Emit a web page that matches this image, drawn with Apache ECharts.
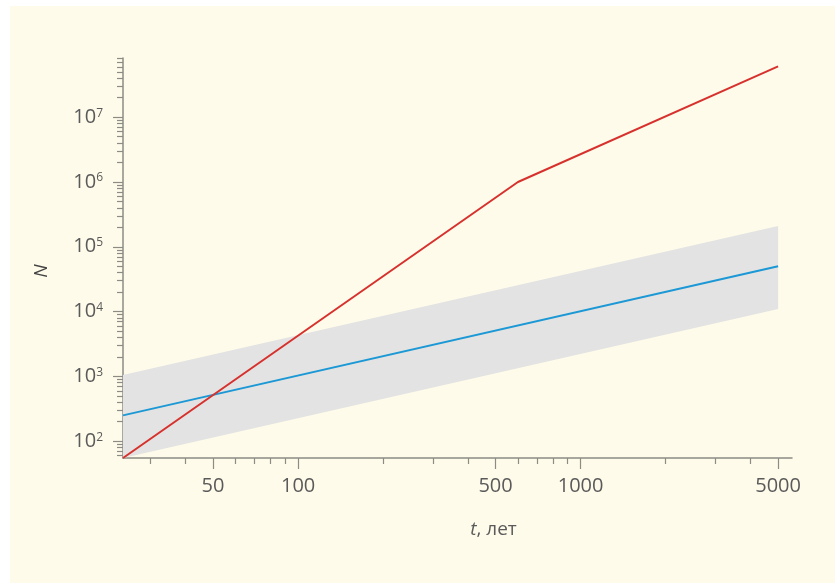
<!DOCTYPE html>
<html>
<head>
<meta charset="utf-8">
<script src="https://cdn.jsdelivr.net/npm/echarts@6/dist/echarts.min.js"></script>
<style>
  html, body { margin: 0; padding: 0; background: #ffffff; }
  #chart { position: absolute; left: 10px; top: 6px; width: 825px; height: 577px; background: #fefbea; }
</style>
</head>
<body>
<div id="chart"></div>
<script>
// ---- Data ----
const redT  = [24, 600, 5000];
const redN  = [55, 1.0e6, 6.1e7];
const blueT = [24, 5000];
const blueN = [250, 50000];
const bandT    = [24, 5000];
const bandLow  = [55, 11000];
const bandHigh = [1050, 210000];

// ---- Tick values ----
const xMajorTicks = [50, 100, 500, 1000, 5000];
const xMinorTicks = [30, 40, 60, 70, 80, 90, 200, 300, 400, 600, 700, 800, 900, 2000, 3000, 4000];
const yMajorTicks = [1e2, 1e3, 1e4, 1e5, 1e6, 1e7];
const yMinorTicks = [60, 70, 80, 90,
  200, 300, 400, 500, 600, 700, 800, 900,
  2000, 3000, 4000, 5000, 6000, 7000, 8000, 9000,
  20000, 30000, 40000, 50000, 60000, 70000, 80000, 90000,
  200000, 300000, 400000, 500000, 600000, 700000, 800000, 900000,
  2e6, 3e6, 4e6, 5e6, 6e6, 7e6, 8e6, 9e6,
  2e7, 3e7, 4e7, 5e7, 6e7, 7e7, 8e7];

const xMin = 24, xMax = 5600, yMin = 55, yMax = 8.2e7;

const FONT = '"Open Sans", "DejaVu Sans", sans-serif';
const AXIS_COLOR = '#8c8c84';
const LABEL_COLOR = '#5a5a5a';

const chart = echarts.init(document.getElementById('chart'), null, { renderer: 'canvas' });

function pairs(xs, ys) { return xs.map((x, i) => [x, ys[i]]); }

const option = {
  animation: false,
  backgroundColor: 'transparent',
  grid: { left: 113, top: 52, width: 669, height: 400, containLabel: false },
  xAxis: [
    {
      type: 'log', logBase: 10, min: xMin, max: xMax, position: 'bottom',
      axisLine: { show: true, lineStyle: { color: AXIS_COLOR, width: 1.5 } },
      axisTick: { show: true, length: 11, customValues: xMajorTicks, lineStyle: { color: AXIS_COLOR, width: 1.2 } },
      axisLabel: { show: true, customValues: xMajorTicks, margin: 18, fontSize: 20, color: LABEL_COLOR, fontFamily: FONT,
        formatter: v => String(Math.round(v)) },
      splitLine: { show: false }, minorTick: { show: false }, minorSplitLine: { show: false },
      name: '{i|t}{r|, лет}', nameLocation: 'middle', nameGap: 62,
      nameTextStyle: { fontSize: 19, color: LABEL_COLOR, fontFamily: FONT, padding: [0, 0, 0, 72],
        rich: {
          i: { fontSize: 19, fontStyle: 'italic', color: LABEL_COLOR, fontFamily: FONT },
          r: { fontSize: 19, color: LABEL_COLOR, fontFamily: FONT }
        } }
    },
    {
      type: 'log', logBase: 10, min: xMin, max: xMax, position: 'bottom', gridIndex: 0,
      axisLine: { show: false },
      axisTick: { show: true, length: 6, customValues: xMinorTicks, lineStyle: { color: AXIS_COLOR, width: 1.2 } },
      axisLabel: { show: false }, splitLine: { show: false }
    }
  ],
  yAxis: [
    {
      type: 'log', logBase: 10, min: yMin, max: yMax, position: 'left',
      axisLine: { show: true, lineStyle: { color: AXIS_COLOR, width: 1.5 } },
      axisTick: { show: true, length: 10, customValues: yMajorTicks, lineStyle: { color: AXIS_COLOR, width: 1.2 } },
      axisLabel: { show: true, customValues: yMajorTicks, margin: 20, color: LABEL_COLOR, fontFamily: FONT,
        formatter: v => '{b|10}{s|' + Math.round(Math.log10(v)) + '}',
        rich: {
          b: { fontSize: 20, color: LABEL_COLOR, fontFamily: FONT },
          s: { fontSize: 12, color: LABEL_COLOR, fontFamily: FONT, verticalAlign: 'top' }
        } },
      splitLine: { show: false },
      name: 'N', nameLocation: 'middle', nameGap: 72, nameRotate: 90,
      nameTextStyle: { fontSize: 19, fontStyle: 'italic', color: '#444', fontFamily: FONT, padding: [0, 26, 0, 0] }
    },
    {
      type: 'log', logBase: 10, min: yMin, max: yMax, position: 'left', gridIndex: 0,
      axisLine: { show: false },
      axisTick: { show: true, length: 6, customValues: yMinorTicks, lineStyle: { color: AXIS_COLOR, width: 1.2 } },
      axisLabel: { show: false }, splitLine: { show: false }
    }
  ],
  series: [
    {
      name: 'band', type: 'custom', xAxisIndex: 0, yAxisIndex: 0, z: 1,
      data: [[bandT[0], bandLow[0]]],
      renderItem: function (params, api) {
        const pts = [];
        for (let i = 0; i < bandT.length; i++) pts.push(api.coord([bandT[i], bandHigh[i]]));
        for (let i = bandT.length - 1; i >= 0; i--) pts.push(api.coord([bandT[i], bandLow[i]]));
        return { type: 'polygon', shape: { points: pts }, style: { fill: '#e2e3e2', stroke: null } };
      },
      silent: true
    },
    {
      name: 'blue', type: 'line', xAxisIndex: 0, yAxisIndex: 0, z: 3,
      data: pairs(blueT, blueN), showSymbol: false, symbol: 'none',
      lineStyle: { color: '#1b98d5', width: 2 }
    },
    {
      name: 'red', type: 'line', xAxisIndex: 0, yAxisIndex: 0, z: 4,
      data: pairs(redT, redN), showSymbol: false, symbol: 'none',
      lineStyle: { color: '#d7312e', width: 2 }
    }
  ]
};
chart.setOption(option);
</script>
</body>
</html>
